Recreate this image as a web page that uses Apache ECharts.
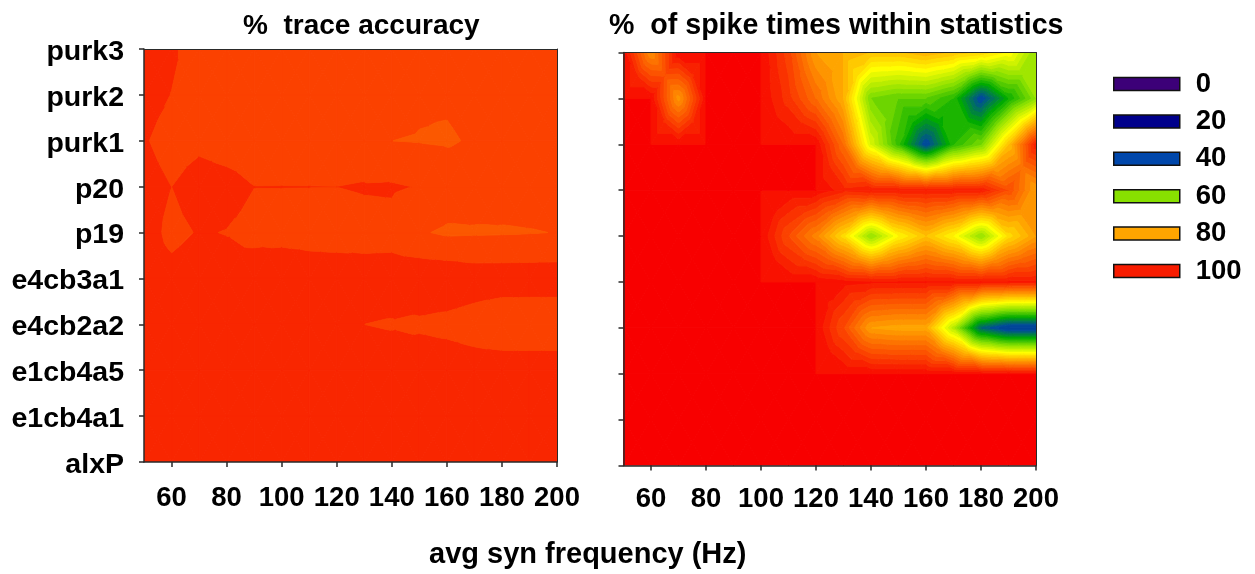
<!DOCTYPE html>
<html><head><meta charset="utf-8">
<style>html,body{margin:0;padding:0;background:#fff}#c{width:1255px;height:574px}</style>
<script src="https://cdn.jsdelivr.net/npm/echarts@6/dist/echarts.min.js"></script>
</head><body><div id="c"></div>
<script>
// Columns: average synaptic frequency (Hz)
const freqs = [50,60,70,80,90,100,110,120,130,140,150,160,170,180,190,200];
const xTickLabels = [60,80,100,120,140,160,180,200];
// Rows, bottom to top
const rowNames = ['alxP','e1cb4a1','e1cb4a5','e4cb2a2','e4cb3a1','p19','p20','purk1','purk2','purk3'];

// % trace accuracy
const trace_purk3   = [97,96,92,92,92,92,92,92,92,92,92,92,92,92,92,92];
const trace_purk2   = [97,94.9,93,92.5,92,92,92,92,92,91.5,90.6,90.6,91.5,92,92,92];
const trace_purk1   = [95.5,93,94,93,92.5,92.5,92.5,92.5,92,90.01,89.8,89.5,90.5,92,92,92];
const trace_p20     = [97,95,97,96.57,95.05,95.06,95.05,95.02,95.35,95.5,94.8,93,92.5,92,92,92];
const trace_p19     = [97,93.9,95.3,94.87,93.8,93.5,93.3,93,93.5,93.5,90.5,89.3,89.5,89.6,89.8,90.1];
const trace_e4cb3a1 = [97,96.4,97.5,96.5,97.4,98.3,97.55,97.65,96.8,97,98.7,98.7,97.8,97.8,97.8,97.8];
const trace_e4cb2a2 = [97,97,97,97,97,97,97,97,95,94.7,94.2,93.6,92.6,91.1,91,91];
const trace_e1cb4a5 = [97,97,97,97,97,97,97,97,97,97,98.2,98,97.5,98,98,98];
const trace_e1cb4a1 = [97,97,97,97,97,97,97,97,97,97,97,97,97,97,97,97];
const trace_alxP    = [97,97,97,97,97,97,97,97,97,97,97,97,97,97,97,97];

// % of spike times within statistics
const spike_purk3   = [100,84,100,100,100,100,93,82,80,78,78,80,78,76,72,62];
const spike_purk2   = [100,100,83,100,100,100,95,88,80,60,58,58,54,40,52,62];
const spike_purk1   = [100,100,100,100,100,100,100,100,88,68,55,40,54,60,78,98];
const spike_p20     = [100,100,100,100,100,100,100,100,97,98,98,98,98,98,92,82];
const spike_p19     = [100,100,100,100,100,100,92,85,75,62,72,78,72,62,75,82];
const spike_e4cb3a1 = [100,100,100,100,100,100,100,100,99,98.5,98.5,98.5,98.5,98.5,98.5,98.5];
const spike_e4cb2a2 = [100,100,100,100,100,100,100,100,92,82,81,81,65,44,38,38];
const spike_e1cb4a5 = [100,100,100,100,100,100,100,100,100,100,100,100,100,100,100,100];
const spike_e1cb4a1 = [100,100,100,100,100,100,100,100,100,100,100,100,100,100,100,100];
const spike_alxP    = [100,100,100,100,100,100,100,100,100,100,100,100,100,100,100,100];

const legendLabels = ['0','20','40','60','80','100'];
const legendColors = ['#3c0078','#00008b','#0047ab','#88e000','#ffa500','#f81c00'];

const traceRows = [trace_alxP,trace_e1cb4a1,trace_e1cb4a5,trace_e4cb2a2,trace_e4cb3a1,trace_p19,trace_p20,trace_purk1,trace_purk2,trace_purk3];
const spikeRows = [spike_alxP,spike_e1cb4a1,spike_e1cb4a5,spike_e4cb2a2,spike_e4cb3a1,spike_p19,spike_p20,spike_purk1,spike_purk2,spike_purk3];

// Colour ramp of the contour fill
const ramp = [[100,[248,0,0]],[80,[255,165,0]],[70,[255,255,0]],[60,[136,224,0]],[50,[0,170,0]],[40,[0,76,153]],[20,[0,0,139]],[0,[60,0,120]]];
function rampColor(v){
  for(let k=0;k<ramp.length-1;k++){
    const a=ramp[k],b=ramp[k+1];
    if(v<=a[0]&&v>=b[0]){
      const t=(a[0]-v)/(a[0]-b[0]);
      return 'rgb('+a[1].map((c,n)=>Math.round(c+(b[1][n]-c)*t)).join(',')+')';
    }
  }
  return 'rgb(60,0,120)';
}
const traceBands=[{lo:95,hi:1e9,color:'#f92600'},{lo:90,hi:95,color:'#fb4100'},{lo:-1e9,hi:90,color:'#fb5800'}];
const spikeBands=[{lo:100,hi:1e9,color:'#f80000'}];
for(let hi=100;hi>0;hi-=2){spikeBands.push({lo:hi-2,hi:hi,color:rampColor(hi-2)});}

function clip(poly,level,keepAbove){
  const out=[];
  for(let i=0;i<poly.length;i++){
    const p=poly[i],q=poly[(i+1)%poly.length];
    const pin=keepAbove?p[2]>=level:p[2]<=level;
    const qin=keepAbove?q[2]>=level:q[2]<=level;
    if(pin)out.push(p);
    if(pin!==qin){
      const t=(level-p[2])/(q[2]-p[2]);
      out.push([p[0]+(q[0]-p[0])*t,p[1]+(q[1]-p[1])*t,level]);
    }
  }
  return out;
}
function makeRender(bands){
  return function(params,api){
    const x0=api.value(0),y0=api.value(1),x1=api.value(2),y1=api.value(3);
    const a=[x0,y0,api.value(4)],b=[x1,y0,api.value(5)],c=[x1,y1,api.value(6)],d=[x0,y1,api.value(7)];
    const m=[(x0+x1)/2,(y0+y1)/2,(a[2]+b[2]+c[2]+d[2])/4];
    const children=[];
    [[a,b,m],[b,c,m],[c,d,m],[d,a,m]].forEach(tri=>{
      const vmin=Math.min(tri[0][2],tri[1][2],tri[2][2]);
      const vmax=Math.max(tri[0][2],tri[1][2],tri[2][2]);
      bands.forEach(band=>{
        if(vmin>=band.hi||vmax<band.lo)return;
        let poly=clip(tri,band.lo,true);
        if(poly.length>=3)poly=clip(poly,band.hi,false);
        if(poly.length<3)return;
        const pts=poly.map(p=>api.coord([p[0],p[1]]));
        let area=0;
        pts.forEach((p,i)=>{const q=pts[(i+1)%pts.length];area+=p[0]*q[1]-q[0]*p[1];});
        if(Math.abs(area)<0.02)return;
        children.push({type:'polygon',shape:{points:pts},style:{fill:band.color,stroke:band.color,lineWidth:1}});
      });
    });
    return {type:'group',children:children,silent:true};
  };
}
function cells(rows){
  const out=[];
  for(let r=0;r<rows.length-1;r++)for(let k=0;k<freqs.length-1;k++){
    out.push([freqs[k],r,freqs[k+1],r+1,rows[r][k],rows[r][k+1],rows[r+1][k+1],rows[r+1][k]]);
  }
  return out;
}
const FONT='"Liberation Sans", Arial, sans-serif';
const line={lineStyle:{color:'#2a2a2a',width:1.5}};
function xAxes(g,margin){return [
  {gridIndex:g,type:'value',min:50,max:200,z:5,splitLine:{show:false},
   axisLine:{show:true,onZero:false,...line},
   axisTick:{show:true,length:5,customValues:xTickLabels,lineStyle:{color:'#2a2a2a',width:1.5}},
   axisLabel:{show:true,customValues:xTickLabels,margin:margin,color:'#000',fontFamily:FONT,fontWeight:'bold',fontSize:27.5}},
  {gridIndex:g,type:'value',position:'top',min:50,max:200,z:5,splitLine:{show:false},
   axisLine:{show:true,onZero:false,lineStyle:{color:'#2a2a2a',width:1}},axisTick:{show:false},axisLabel:{show:false}}
];}
function yAxes(g,labels){return [
  {gridIndex:g,type:'value',min:0,max:9,interval:1,z:5,splitLine:{show:false},
   axisLine:{show:true,onZero:false,...line},
   axisTick:{show:true,length:5,lineStyle:{color:'#2a2a2a',width:1.5}},
   axisLabel:{show:labels,margin:20,verticalAlign:'top',lineHeight:6,color:'#000',fontFamily:FONT,fontWeight:'bold',fontSize:28.5,formatter:v=>rowNames[v]}},
  {gridIndex:g,type:'value',position:'right',min:0,max:9,interval:1,z:5,splitLine:{show:false},
   axisLine:{show:true,onZero:false,lineStyle:{color:'#2a2a2a',width:1}},axisTick:{show:false},axisLabel:{show:false}}
];}
const titleStyle={color:'#000',fontFamily:FONT,fontWeight:'bold',fontSize:28};
const chart=echarts.init(document.getElementById('c'),null,{renderer:'canvas'});
chart.setOption({
  animation:false,backgroundColor:'#fff',
  title:[
    {text:'%  trace accuracy',left:243,top:12,padding:0,textStyle:titleStyle},
    {text:'%  of spike times within statistics',left:609,top:12,padding:0,textStyle:{...titleStyle,fontSize:28.6}},
    {text:'avg syn frequency (Hz)',left:429,top:540,padding:0,textStyle:{...titleStyle,fontSize:29}}
  ],
  grid:[{left:144,top:49,width:413,height:413},{left:623.5,top:52.5,width:412.5,height:413}],
  xAxis:[...xAxes(0,22),...xAxes(1,20)],
  yAxis:[...yAxes(0,true),...yAxes(1,false)],
  legend:{orient:'vertical',left:1113,top:70,padding:0,itemWidth:66,itemHeight:13,itemGap:9.4,icon:'rect',selectedMode:false,
    data:legendLabels,
    itemStyle:{borderColor:'#111',borderWidth:1.5},
    textStyle:{color:'#000',fontFamily:FONT,fontWeight:'bold',fontSize:27.5,lineHeight:28,padding:[0,0,0,11]}},
  series:[
    {type:'custom',name:'% trace accuracy',xAxisIndex:0,yAxisIndex:0,coordinateSystem:'cartesian2d',clip:true,
     data:cells(traceRows),encode:{x:[0,2],y:[1,3]},renderItem:makeRender(traceBands)},
    {type:'custom',name:'% of spike times within statistics',xAxisIndex:2,yAxisIndex:2,coordinateSystem:'cartesian2d',clip:true,
     data:cells(spikeRows),encode:{x:[0,2],y:[1,3]},renderItem:makeRender(spikeBands)},
    ...legendLabels.map((n,i)=>({type:'scatter',name:n,xAxisIndex:0,yAxisIndex:0,data:[],itemStyle:{color:legendColors[i],opacity:1}}))
  ]
});
</script></body></html>
